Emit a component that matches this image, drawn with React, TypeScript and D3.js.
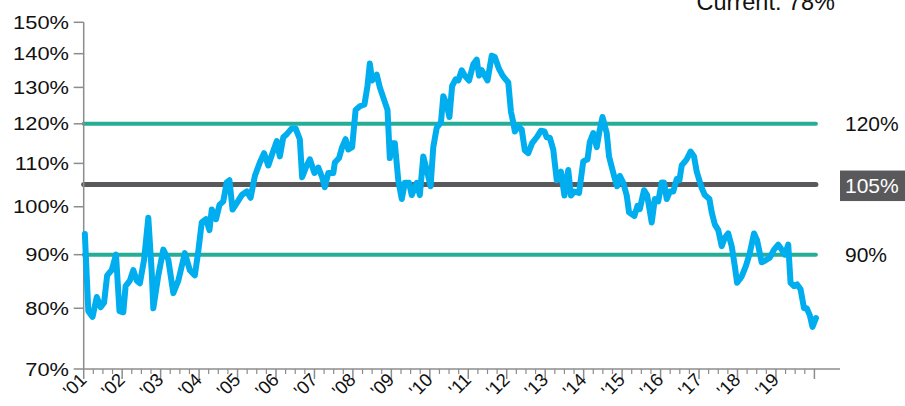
import React from "react";
import * as d3 from "d3";

// Decimal year and valuation level (%)
const years: number[] = [
  2001.03, 2001.12, 2001.23, 2001.34, 2001.44, 2001.53, 2001.61, 2001.73, 2001.84, 2001.93,
  2002.03, 2002.09, 2002.20, 2002.29, 2002.38, 2002.46, 2002.57, 2002.68, 2002.77, 2002.81, 2002.94,
  2003.07, 2003.20, 2003.33, 2003.46, 2003.63, 2003.76, 2003.89, 2003.98,
  2004.07, 2004.18, 2004.27, 2004.33, 2004.44, 2004.53, 2004.63, 2004.72, 2004.79, 2004.87, 2004.98,
  2005.11, 2005.24, 2005.34, 2005.45, 2005.58, 2005.69, 2005.80, 2005.89,
  2006.02, 2006.10, 2006.19, 2006.28, 2006.41, 2006.51, 2006.62, 2006.68, 2006.80, 2006.88,
  2007.00, 2007.10, 2007.20, 2007.27, 2007.36, 2007.49, 2007.53, 2007.64, 2007.72, 2007.81, 2007.88, 2007.98,
  2008.07, 2008.18, 2008.30, 2008.38, 2008.44, 2008.50, 2008.62, 2008.70, 2008.82, 2008.90, 2008.96,
  2009.01, 2009.09, 2009.18, 2009.27, 2009.35, 2009.46, 2009.53, 2009.66, 2009.74, 2009.83, 2009.92,
  2010.02, 2010.09, 2010.18, 2010.29, 2010.35, 2010.44, 2010.51, 2010.58, 2010.67, 2010.74, 2010.83, 2010.91,
  2011.02, 2011.13, 2011.22, 2011.28, 2011.35, 2011.43, 2011.50, 2011.61, 2011.69, 2011.80, 2011.88, 2011.95,
  2012.04, 2012.11, 2012.17, 2012.21, 2012.30, 2012.39, 2012.47, 2012.56, 2012.66, 2012.78, 2012.89, 2012.98,
  2013.04, 2013.12, 2013.21, 2013.30, 2013.41, 2013.50, 2013.60, 2013.67, 2013.76, 2013.88, 2013.99,
  2014.10, 2014.16, 2014.25, 2014.34, 2014.41, 2014.49, 2014.60, 2014.66, 2014.80, 2014.87, 2014.94,
  2015.03, 2015.12, 2015.18, 2015.32, 2015.40, 2015.46, 2015.57, 2015.65, 2015.77, 2015.85, 2015.94,
  2016.03, 2016.09, 2016.16, 2016.24, 2016.33, 2016.42, 2016.49, 2016.55, 2016.68, 2016.78, 2016.87, 2016.94,
  2017.07, 2017.15, 2017.27, 2017.33, 2017.41, 2017.50, 2017.59, 2017.67, 2017.76, 2017.85, 2017.93, 2017.99,
  2018.11, 2018.22, 2018.32, 2018.43, 2018.51, 2018.63, 2018.71, 2018.84, 2018.95,
  2019.06, 2019.15, 2019.23, 2019.32, 2019.38, 2019.47, 2019.55, 2019.64, 2019.73, 2019.80, 2019.88, 2019.95, 2020.04,
];

const values: number[] = [
  94.2, 79.5, 78.5, 82, 80.2, 81, 86, 87, 90, 79.5,
  79.3, 84, 85, 87, 85, 84.5, 89, 97.6, 86.5, 80, 86,
  91, 89, 82.7, 85, 90.3, 87, 86, 90.7,
  96.6, 97.3, 95, 99.4, 97.3, 100.4, 101.2, 105.5, 106, 99.4, 100.8,
  102.6, 103.4, 102, 107, 110.2, 112.5, 109.5, 112,
  115.5, 111.7, 116.5, 117.3, 118.8, 118.8, 116, 106.7, 109.5, 111,
  107.7, 109, 106.7, 104.4, 107.7, 107.7, 110.2, 111.3, 114, 116, 113.4, 114,
  123.7, 124.7, 125.2, 130.5, 137, 132, 133.7, 130, 126.2, 123.7, 111.3,
  115, 115, 106, 101.7, 105.4, 105.4, 102.6, 105.4, 102.6, 111.7, 108.4,
  104.6, 114, 119, 120.4, 127.5, 125.2, 121.8, 130.4, 132.3, 132, 135, 133.4,
  132, 136.8, 138.2, 133.4, 135, 133.4, 132, 139.4, 139, 135.4, 133.7, 132.6,
  131.4, 123.2, 120.4, 118, 119.3, 118.5, 113.2, 112.5, 115, 116.5, 118.2, 118,
  116.5, 116.4, 113.4, 106, 108, 102.5, 108.4, 102.5, 103.4, 103.1, 110.5,
  111, 115.3, 117.6, 114, 118, 121.8, 117.6, 111.7, 106.7, 104.6, 107,
  105.4, 102.5, 98.8, 98, 100.2, 99.5, 103.7, 102.6, 96.6, 101.7, 101.2,
  105.5, 105.5, 101.7, 103.4, 103.4, 106.3, 106, 109.5, 111, 112.9, 111.7, 108,
  104.2, 102.6, 101.7, 98.8, 96.2, 95, 91.7, 93.4, 94.3, 91.7, 87.8, 84.6,
  85.8, 87.8, 90.3, 94.3, 92.9, 88.5, 88.8, 89.4, 91,
  92, 91, 90, 92, 84.6, 84, 84.3, 83.4, 80, 80, 78.8, 76.8, 78.3,
];

const yTicks: number[] = [70, 80, 90, 100, 110, 120, 130, 140, 150];
const yearTicks: number[] = d3.range(2001, 2021);
const yearLabels: string[] = yearTicks.slice(0, 19).map((y) => "'" + String(y).slice(2));
const bands: { value: number; label: string; kind: string }[] = [
  { value: 120, label: "120%", kind: "green" },
  { value: 105, label: "105%", kind: "gray" },
  { value: 90, label: "90%", kind: "green" },
];
const currentLabel = "Current: 78%";

const W = 905;
const H = 406;
const FONT = "'Liberation Sans', Arial, Helvetica, sans-serif";
const BLUE = "#00AEEF";
const GREEN = "#25AD96";
const GRAY = "#59595B";
const AXIS = "#8C8C8C";

export default function App() {
  const x = d3.scaleLinear().domain([2001, 2020]).range([83.7, 814.4]);
  const y = d3.scaleLog().domain([70, 150]).range([369, 22.3]);
  const axisY = y(70);
  const axisX = x(2001);

  const pts = years.map((yr, i) => [yr, values[i]] as [number, number]);
  const line = d3
    .line<[number, number]>()
    .x((d) => x(d[0]))
    .y((d) => y(d[1]))
    .curve(d3.curveLinear);

  const minorTicks: number[] = [];
  for (let yr = 2001; yr < 2020; yr++) {
    for (let q = 1; q < 4; q++) minorTicks.push(yr + q / 4);
  }

  return (
    <svg
      width={W}
      height={H}
      style={{ position: "absolute", left: 0, top: 0, background: "#fff" }}
      fontFamily={FONT}
    >
      {/* reference lines */}
      {bands.map((b) => (
        <line
          key={b.label}
          x1={axisX}
          x2={x(2020) + 1.5}
          y1={y(b.value)}
          y2={y(b.value)}
          stroke={b.kind === "green" ? GREEN : GRAY}
          strokeWidth={b.kind === "green" ? 4 : 5}
          strokeLinecap="round"
        />
      ))}

      {/* axes */}
      <line x1={axisX} x2={axisX} y1={y(150)} y2={axisY} stroke={AXIS} strokeWidth={1.5} />
      <line x1={axisX} x2={840} y1={axisY} y2={axisY} stroke={AXIS} strokeWidth={1.5} />
      {yTicks.map((t) => (
        <g key={t}>
          <line x1={axisX - 10} x2={axisX} y1={y(t)} y2={y(t)} stroke={AXIS} strokeWidth={1.5} />
          <g transform={`translate(69,${y(t) + 6.5}) scale(1.15,1)`}>
            <text textAnchor="end" fontSize={19} fill="#111">
              {t + "%"}
            </text>
          </g>
        </g>
      ))}
      {minorTicks.map((t) => (
        <line key={t} x1={x(t)} x2={x(t)} y1={axisY} y2={axisY + 5} stroke={AXIS} strokeWidth={1.2} />
      ))}
      {yearTicks.map((t) => (
        <line key={t} x1={x(t)} x2={x(t)} y1={axisY} y2={axisY + 10} stroke={AXIS} strokeWidth={1.5} />
      ))}
      {yearLabels.map((lab, i) => (
        <text
          key={lab}
          transform={`translate(${x(yearTicks[i]) + 4},${axisY + 12}) rotate(-45)`}
          textAnchor="end"
          fontSize={18.5}
          fill="#111"
        >
          {lab}
        </text>
      ))}

      {/* series */}
      <path d={line(pts) || ""} fill="none" stroke={BLUE} strokeWidth={6} strokeLinejoin="round" strokeLinecap="round" />

      {/* band labels */}
      {bands.map((b) =>
        b.kind === "gray" ? (
          <g key={b.label}>
            <rect x={840} y={y(b.value) - 14} width={65} height={30.5} fill={GRAY} />
            <text x={845} y={y(b.value) + 8.5} fontSize={21} fill="#fff">
              {b.label}
            </text>
          </g>
        ) : (
          <text key={b.label} x={845} y={y(b.value) + 7} fontSize={21} fill="#111">
            {b.label}
          </text>
        )
      )}

      <text x={835} y={10} textAnchor="end" fontSize={23.5} fill="#111">
        {currentLabel}
      </text>
    </svg>
  );
}
